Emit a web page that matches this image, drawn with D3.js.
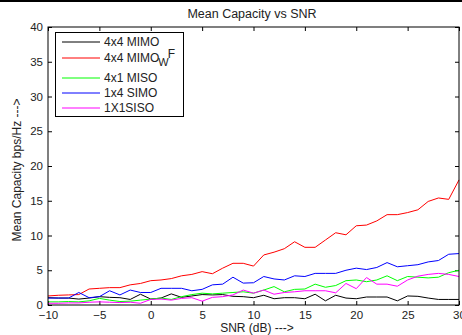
<!DOCTYPE html>
<html>
<head>
<meta charset="utf-8">
<script src="https://cdn.jsdelivr.net/npm/d3@7"></script>
<style>
  body { margin: 0; background: #fff; }
  svg { display: block; font-family: "Liberation Sans", Arial, sans-serif; }
  .tick text { font-size: 11.5px; fill: #222; }
</style>
</head>
<body>
<svg id="chart" width="462" height="335"></svg>
<script>
// SNR in dB, -10..30
const snr = d3.range(-10, 31);

const mimo = [1.05, 1.0, 1.0, 0.85, 1.0, 1.2, 1.1, 1.05, 0.8, 1.55, 0.85, 1.0, 1.6, 1.1, 1.3, 1.5, 1.45, 1.5, 1.25, 1.2,
  1.05, 1.4, 0.9, 1.05, 1.05, 0.9, 1.55, 0.6, 1.4, 1.0, 0.9, 1.15, 1.15, 1.15, 0.6, 1.3, 1.25, 1.0, 0.8, 0.8, 0.8];
const mimoWF = [1.3, 1.4, 1.45, 1.5, 2.3, 2.4, 2.5, 2.5, 2.9, 3.1, 3.5, 3.6, 3.8, 4.2, 4.4, 4.8, 4.5, 5.3, 6.0, 6.0,
  5.6, 7.2, 7.6, 8.1, 9.1, 8.3, 8.3, 9.35, 10.4, 10.1, 11.4, 11.5, 12.1, 13.0, 13.0, 13.3, 13.7, 14.9, 15.4, 15.2, 18.0];
const miso = [0.45, 0.45, 0.5, 0.45, 0.6, 0.95, 0.7, 0.5, 0.55, 0.7, 0.85, 1.0, 0.8, 1.2, 1.5, 1.7, 1.6, 1.7, 1.8, 1.9,
  1.7, 2.15, 2.65, 1.9, 2.25, 2.3, 3.0, 2.55, 2.8, 3.5, 3.6, 3.35, 3.6, 4.2, 3.5, 4.1, 4.0, 3.9, 4.0, 4.65, 5.0];
const simo = [1.0, 1.0, 1.0, 1.8, 1.05, 1.2, 2.05, 1.45, 2.15, 1.8, 1.8, 2.4, 2.4, 2.4, 2.05, 2.25, 2.9, 3.0, 4.0, 3.15,
  3.2, 4.1, 3.75, 3.6, 4.2, 4.1, 4.55, 4.55, 4.55, 5.0, 5.3, 5.1, 5.4, 6.1, 5.5, 5.65, 5.8, 6.2, 6.4, 7.3, 7.4];
const siso = [0.25, 0.25, 0.3, 0.3, 0.4, 0.45, 0.4, 0.35, 0.4, 0.25, 0.8, 0.85, 0.7, 0.95, 1.05, 0.55, 1.1, 1.2, 1.45, 2.15,
  1.7, 2.15, 1.55, 1.8, 1.9, 2.05, 2.05, 2.05, 1.75, 3.1, 2.35, 3.95, 3.0, 3.0, 2.7, 3.6, 4.15, 4.4, 4.55, 4.4, 4.1];

const xTicks = [-10, -5, 0, 5, 10, 15, 20, 25, 30];
const yTicks = [0, 5, 10, 15, 20, 25, 30, 35, 40];

const series = [
  { name: "4x4 MIMO", values: mimo, color: "#000000" },
  { name: "4x4 MIMO", sub: "W", tail: "F", values: mimoWF, color: "#ff0000" },
  { name: "4x1 MISO", values: miso, color: "#00ff00" },
  { name: "1x4 SIMO", values: simo, color: "#0000ff" },
  { name: "1X1SISO", values: siso, color: "#ff00ff" }
];

const svg = d3.select("#chart");
const mLeft = 48, mRight = 459, mTop = 27, mBottom = 305;

// black strip along the top of the picture
svg.append("rect").attr("x", 0).attr("y", 0).attr("width", 462).attr("height", 2).attr("fill", "#000");

const x = d3.scaleLinear().domain([-10, 30]).range([mLeft, mRight]);
const y = d3.scaleLinear().domain([0, 40]).range([mBottom, mTop]);

// axes, ticks pointing inward
svg.append("g")
  .attr("transform", `translate(0,${mBottom})`)
  .call(d3.axisBottom(x).tickValues(xTicks).tickSizeInner(-4).tickSizeOuter(0).tickPadding(6))
  .call(g => g.select(".domain").remove());
svg.append("g")
  .attr("transform", `translate(0,${mTop})`)
  .call(d3.axisTop(x).tickValues(xTicks).tickSizeInner(-4).tickSizeOuter(0).tickFormat(""))
  .call(g => g.select(".domain").remove());
svg.append("g")
  .attr("transform", `translate(${mLeft},0)`)
  .call(d3.axisLeft(y).tickValues(yTicks).tickSizeInner(-4).tickSizeOuter(0).tickPadding(5))
  .call(g => g.select(".domain").remove());
svg.append("g")
  .attr("transform", `translate(${mRight},0)`)
  .call(d3.axisRight(y).tickValues(yTicks).tickSizeInner(-4).tickSizeOuter(0).tickFormat(""))
  .call(g => g.select(".domain").remove());
svg.selectAll(".tick line").attr("stroke", "#000");

// lines
const line = d3.line().x((d, i) => x(snr[i])).y(d => y(d));
svg.append("g").selectAll("path")
  .data(series)
  .enter().append("path")
  .attr("d", d => line(d.values))
  .attr("fill", "none")
  .attr("stroke", d => d.color)
  .attr("stroke-width", 1);

// plot box
svg.append("rect")
  .attr("x", mLeft).attr("y", mTop)
  .attr("width", mRight - mLeft).attr("height", mBottom - mTop)
  .attr("fill", "none").attr("stroke", "#000").attr("stroke-width", 1);

// title and axis labels
svg.append("text").attr("x", 252).attr("y", 18).attr("text-anchor", "middle")
  .style("font-size", "12.5px").attr("fill", "#222").text("Mean Capacity vs SNR");
svg.append("text").attr("x", 257).attr("y", 332).attr("text-anchor", "middle")
  .style("font-size", "12px").attr("fill", "#222").text("SNR (dB) --->");
svg.append("text").attr("transform", "translate(21,170) rotate(-90)").attr("text-anchor", "middle")
  .style("font-size", "12px").attr("fill", "#222").text("Mean Capacity bps/Hz --->");

// legend
const legend = svg.append("g");
legend.append("rect").attr("x", 55.5).attr("y", 32.5).attr("width", 128).attr("height", 84)
  .attr("fill", "#fff").attr("stroke", "#000");
const rowY = [42, 58, 78, 93, 108];
series.forEach((s, i) => {
  legend.append("line").attr("x1", 62).attr("x2", 100).attr("y1", rowY[i]).attr("y2", rowY[i])
    .attr("stroke", s.color);
  const t = legend.append("text").attr("x", 104).attr("y", rowY[i] + 4)
    .style("font-size", "12px").attr("fill", "#222");
  t.append("tspan").text(s.name);
  if (s.sub) {
    t.append("tspan").attr("dy", 4).attr("dx", -1).style("font-size", "11px").text(s.sub);
    t.append("tspan").attr("dy", -8).attr("dx", -1).text(s.tail);
  }
});
</script>
</body>
</html>
